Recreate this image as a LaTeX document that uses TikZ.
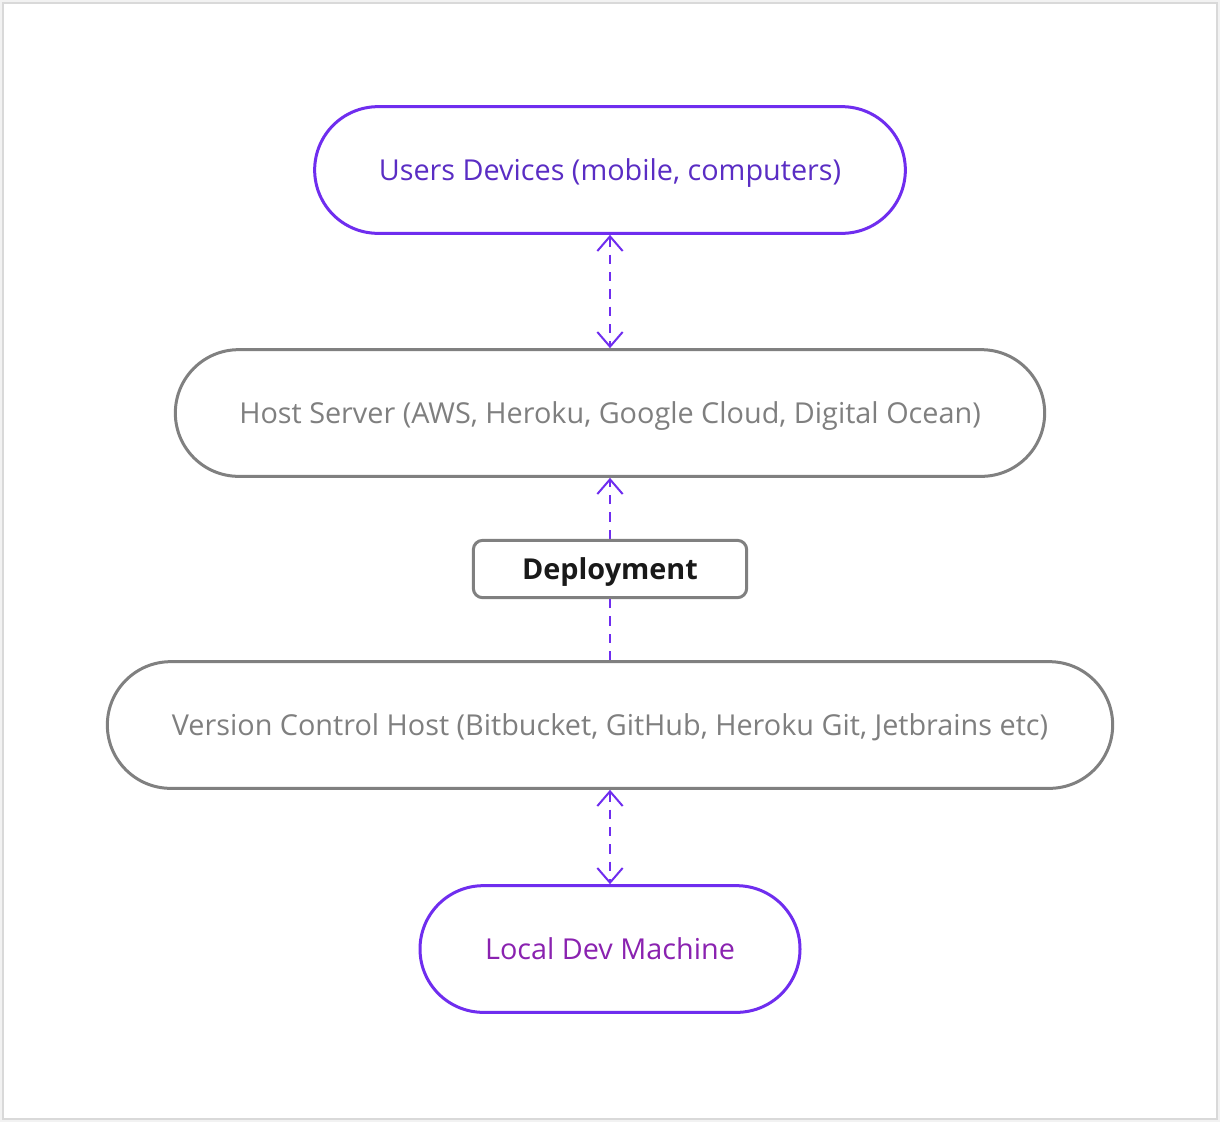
\documentclass[tikz,border=0pt]{standalone}
\usepackage{fontspec}
\setmainfont{Open Sans}
\usepackage{xcolor}
\usepackage{tikz}
\usetikzlibrary{arrows.meta,positioning}

\definecolor{pline}{HTML}{6F2DEF}
\definecolor{ptext}{HTML}{5A2DC4}
\definecolor{mtext}{HTML}{8A22B0}
\definecolor{gline}{HTML}{808080}
\definecolor{gtext}{HTML}{7F7F7F}

\begin{document}
\begin{tikzpicture}[
			x=0.75pt, y=-0.75pt,
			every node/.style={font=\fontsize{21.6}{25}\selectfont, inner sep=0pt, text height=18pt, text depth=2pt},
			pill/.style={draw=gline, line width=2.25pt, text=gtext, minimum height=95pt, rounded corners=47.5pt},
			pillp/.style={pill, draw=pline},
			tag/.style={draw=gline, line width=2.25pt, rounded corners=7pt, minimum width=205pt, minimum height=43pt, font=\fontsize{21.6}{25}\selectfont\bfseries, text=black!90},
			link/.style={draw=pline, line width=1.5pt, dash pattern=on 7pt off 6pt},
			>={Straight Barb[length=11pt, width=19pt, line width=1.5pt]}
			]
			
			% page with a faint frame
			\fill[black!5] (0,0) rectangle (1220,1122);
			\fill[white, draw=black!15, line width=1pt] (3,3) rectangle (1217,1119);
			
			\node[pillp, text=ptext, minimum width=443pt] (users) at (610,170) {Users Devices (mobile, computers)};
			\node[pill, minimum width=652pt] (host) at (610,413) {Host Server (AWS, Heroku, Google Cloud, Digital Ocean)};
			\node[pill, minimum width=754pt] (vcs) at (610,725) {Version Control Host (Bitbucket, GitHub, Heroku Git, Jetbrains etc)};
			\node[pillp, text=mtext, minimum width=285pt] (local) at (610,949) {Local Dev Machine};
			
			% connectors
			\draw[link, <->] (users) -- (host);
			\draw[link, ->] (vcs) -- (host);
			\node[tag, fill=white] (deploy) at (610,569) {Deployment};
			\draw[link, <->] (vcs) -- (local);
		\end{tikzpicture}
\end{document}
